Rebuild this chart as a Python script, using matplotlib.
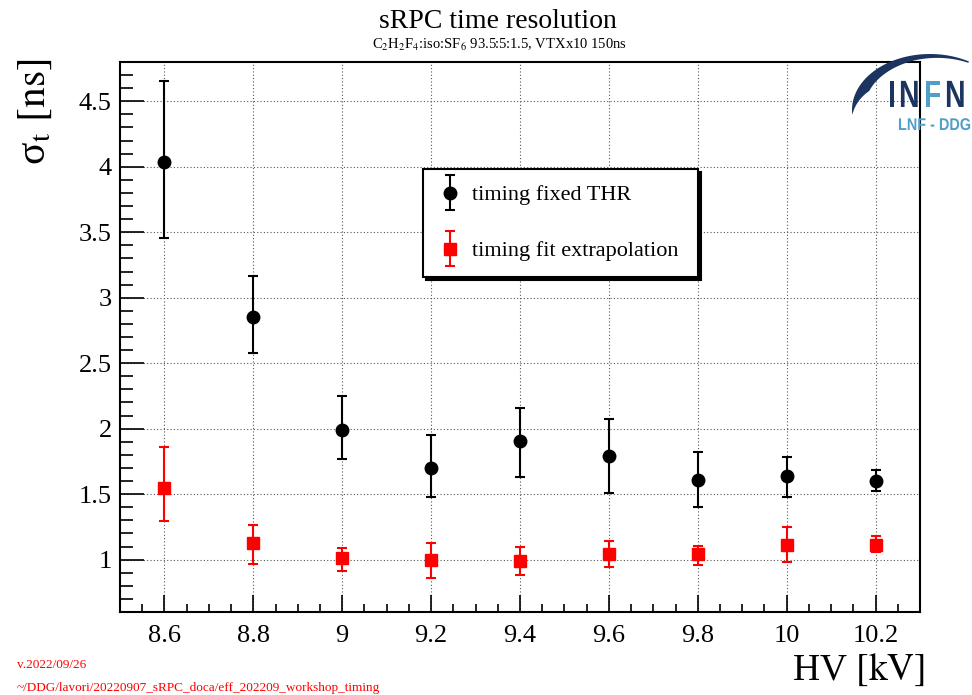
"""sRPC time resolution vs HV, ROOT-style canvas redrawn with matplotlib."""

import matplotlib

matplotlib.use("Agg")
import matplotlib.pyplot as plt
import numpy as np
from matplotlib.container import ErrorbarContainer
from matplotlib.legend_handler import HandlerErrorbar
from matplotlib.patches import PathPatch, Polygon
from matplotlib.textpath import TextPath
from matplotlib.font_manager import FontProperties
from matplotlib.ticker import MultipleLocator, FormatStrFormatter
from matplotlib.transforms import Affine2D

plt.rcParams["font.family"] = ["Liberation Serif", "DejaVu Serif"]
plt.rcParams["mathtext.fontset"] = "stix"

# HV points (kV)
hv = [8.6, 8.8, 9.0, 9.2, 9.4, 9.6, 9.8, 10.0, 10.2]

# timing with fixed threshold (ns), asymmetric errors
fixed = [4.04, 2.855, 1.99, 1.703, 1.903, 1.792, 1.607, 1.637, 1.597]
fixed_lo = [0.586, 0.274, 0.223, 0.223, 0.271, 0.284, 0.208, 0.158, 0.074]
fixed_hi = [0.617, 0.31, 0.259, 0.246, 0.252, 0.284, 0.213, 0.143, 0.086]

# timing from fit extrapolation (ns)
fitx = [1.546, 1.129, 1.01, 0.998, 0.99, 1.041, 1.041, 1.111, 1.112]
fitx_lo = [0.249, 0.165, 0.097, 0.137, 0.104, 0.094, 0.079, 0.126, 0.056]
fitx_hi = [0.312, 0.134, 0.078, 0.132, 0.107, 0.104, 0.061, 0.136, 0.066]

W, H = 972, 695
fig = plt.figure(figsize=(W / 100, H / 100), dpi=100)
ax = fig.add_axes([120 / W, 1 - 612 / H, 800 / W, 550 / H])

ax.errorbar(hv, fixed, yerr=[fixed_lo, fixed_hi], fmt="o", color="black", ms=9,
            elinewidth=1.5, capsize=3.5, capthick=1.5, label="timing fixed THR", zorder=3)
ax.errorbar(hv, fitx, yerr=[fitx_lo, fitx_hi], fmt="s", color="red", ms=9,
            elinewidth=1.5, capsize=3.5, capthick=1.5, label="timing fit extrapolation", zorder=3)

ax.set_xlim(8.5, 10.3)
ax.set_ylim(0.6, 4.8)
ax.xaxis.set_major_locator(MultipleLocator(0.2))
ax.xaxis.set_minor_locator(MultipleLocator(0.05))
ax.yaxis.set_major_locator(MultipleLocator(0.5))
ax.yaxis.set_minor_locator(MultipleLocator(0.1))
ax.xaxis.set_major_formatter(FormatStrFormatter("%g"))
ax.yaxis.set_major_formatter(FormatStrFormatter("%g"))
ax.tick_params(axis="both", which="both", direction="in", top=False, right=False, width=1.2)
ax.tick_params(axis="x", which="major", length=12, pad=9, labelsize=19)
ax.tick_params(axis="x", which="minor", length=6)
ax.tick_params(axis="y", which="major", length=17, pad=6, labelsize=19)
ax.tick_params(axis="y", which="minor", length=9)
ax.grid(which="major", color="#555555", linestyle=(0, (1, 2)), linewidth=0.8)
for s in ax.spines.values():
    s.set_linewidth(1.5)

leg = ax.legend(loc="lower left", bbox_to_anchor=(0.379, 0.609, 0.344, 0.2), mode="expand",
                borderaxespad=0, fontsize=16, frameon=True, fancybox=False, framealpha=1,
                edgecolor="black", shadow={"color": "black", "alpha": 1},
                handlelength=1.0, handletextpad=0.5, borderpad=0.7, labelspacing=1.6,
                handler_map={ErrorbarContainer: HandlerErrorbar(yerr_size=0.78)})
leg.get_frame().set_linewidth(1.5)

# titles and axis titles
fig.text(498 / W, 1 - 22 / H, "sRPC time resolution", ha="center", va="center", fontsize=20)
fig.text(499 / W, 1 - 45 / H, r"C$_2$H$_2$F$_4$:iso:SF$_6$ 93.5:5:1.5, VTXx10 150ns",
         ha="center", va="center", fontsize=10.5)
fig.text(35 / W, 1 - 58 / H, r"σ$_{\mathrm{t}}$ $\left[\mathrm{ns}\right]$", rotation=90,
         ha="center", va="top", fontsize=30)
fig.text(925 / W, 1 - 670 / H, r"HV $\left[\mathrm{kV}\right]$", ha="right", va="center",
         fontsize=27)
fig.text(17 / W, 1 - 665 / H, "v.2022/09/26", color="red", ha="left", va="center", fontsize=9.5)
fig.text(17 / W, 1 - 688 / H, "~/DDG/lavori/20220907_sRPC_doca/eff_202209_workshop_timing",
         color="red", ha="left", va="center", fontsize=9.5)

# INFN logo, drawn in image pixel coordinates (y down)
px = Affine2D().scale(1 / W, -1 / H).translate(0, 1) + fig.transFigure
navy, light = "#1c3560", "#4f9fc8"
t = np.linspace(60, 185, 150)
wd = np.interp(t, [60, 100, 155, 185], [1.5, 5, 11, 0])
t = np.radians(t)
cx, cy, a, b = 930, 110, 78, 56
outer = np.column_stack([cx + a * np.cos(t), cy - b * np.sin(t)])
inner = np.column_stack([cx + (a - wd) * np.cos(t), cy - (b - wd) * np.sin(t)])
fig.patches.append(Polygon(np.vstack([outer, inner[::-1]]), closed=True, color=navy, lw=0,
                           transform=px, figure=fig))


def logo_text(s, x, y, size, sx, color, weight="bold"):
    path = TextPath((0, 0), s, size=size, prop=FontProperties(family="Liberation Sans",
                                                              weight=weight))
    tr = Affine2D().scale(sx, -1).translate(x, y) + px
    fig.patches.append(PathPatch(path, color=color, lw=0, transform=tr, figure=fig))


logo_text("I", 888, 107, 38, 0.75, navy)
logo_text("N", 899, 107, 38, 0.75, navy)
logo_text("F", 924, 107, 38, 0.75, light)
logo_text("N", 945, 107, 38, 0.75, navy)
logo_text("LNF - DDG", 898, 130, 17, 0.85, light)

fig.savefig("out.png", dpi=100, facecolor="white")
